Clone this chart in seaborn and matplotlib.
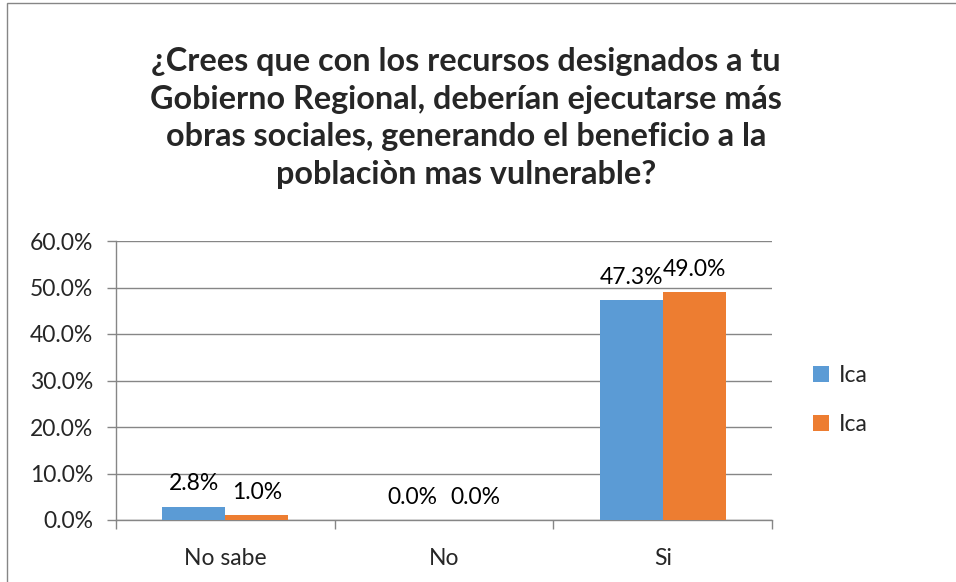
import pandas as pd
import matplotlib.pyplot as plt
import seaborn as sns
from matplotlib.patches import Rectangle, Patch

# Data
categories = ["No sabe", "No", "Si"]
series_keys = ["Ica_1", "Ica_2"]
series_labels = ["Ica", "Ica"]
values_1 = [0.028, 0.0, 0.473]
values_2 = [0.010, 0.0, 0.490]
colors = ["#5B9BD5", "#ED7D31"]
title = ("¿Crees que con los recursos designados a tu\n"
         "Gobierno Regional, deberían ejecutarse más\n"
         "obras sociales, generando el beneficio a la\n"
         "poblaciòn mas vulnerable?")

df = pd.DataFrame({
    "cat": categories * 2,
    "serie": [series_keys[0]] * 3 + [series_keys[1]] * 3,
    "val": values_1 + values_2,
})

sns.set_theme(style="white")
plt.rcParams["font.family"] = ["Lato", "DejaVu Sans"]

fig = plt.figure(figsize=(9.56, 5.82), dpi=100)
ax = fig.add_axes([116 / 956, 1 - 520 / 582, (772 - 116) / 956, (520 - 241) / 582])

sns.barplot(data=df, x="cat", y="val", hue="serie", palette=colors,
            width=0.577, order=categories, hue_order=series_keys,
            saturation=1, legend=False, linewidth=0, ax=ax, zorder=3)

for cont in ax.containers:
    ax.bar_label(cont, labels=[f"{v.get_height() * 100:.1f}%" for v in cont],
                 padding=9, fontsize=16.5, color="#000000")

ax.set_ylim(0, 0.6)
ax.set_xlim(-0.5, 2.5)
ax.set_yticks([0, 0.1, 0.2, 0.3, 0.4, 0.5, 0.6])
ax.set_yticklabels([f"{t * 100:.1f}%" for t in ax.get_yticks()], fontsize=16.5)
ax.set_xticklabels(categories, fontsize=16.5)
ax.set_xticks([-0.5, 0.5, 1.5, 2.5], minor=True)
ax.tick_params(axis="x", which="major", length=0, pad=20)
ax.tick_params(axis="x", which="minor", length=6.5, width=1, color="#868686", direction="out", bottom=True)
ax.tick_params(axis="y", length=6.5, width=1, color="#868686", direction="out", left=True, pad=10)
ax.yaxis.grid(True, color="#868686", linewidth=1, zorder=0)
ax.set_axisbelow(True)
ax.set_xlabel("")
ax.set_ylabel("")
for s in ["top", "right"]:
    ax.spines[s].set_visible(False)
for s in ["left", "bottom"]:
    ax.spines[s].set_color("#868686")
    ax.spines[s].set_linewidth(1)

fig.text(466 / 956, 1 - 118 / 582, title, ha="center", va="center",
         fontsize=23.3, fontweight="bold", linespacing=1.36)

handles = [Patch(facecolor=c, edgecolor="none") for c in colors]
fig.legend(handles, series_labels, loc="center left",
           bbox_to_anchor=(813 / 956, 1 - 400 / 582), frameon=False,
           fontsize=16.5, handlelength=0.7, handleheight=0.7,
           labelspacing=1.2, handletextpad=0.45, borderpad=0, borderaxespad=0)

# chart border
fig.add_artist(Rectangle((7 / 956, -0.1), 1.2, 1 - 3 / 582 + 0.1,
                         transform=fig.transFigure, fill=False,
                         edgecolor="#868686", linewidth=1))

fig.savefig("out.png", dpi=100)
